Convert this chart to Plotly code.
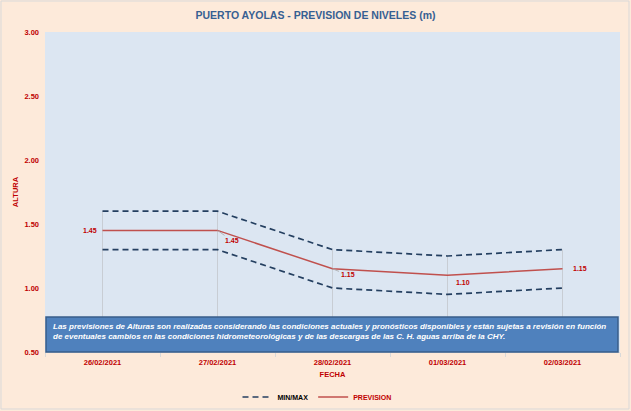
import plotly.graph_objects as go

# ---- data ----
fechas = ["26/02/2021", "27/02/2021", "28/02/2021", "01/03/2021", "02/03/2021"]
maximo = [1.60, 1.60, 1.30, 1.25, 1.30]
minimo = [1.30, 1.30, 1.00, 0.95, 1.00]
prevision = [1.45, 1.45, 1.15, 1.10, 1.15]
y_ticks = [0.50, 1.00, 1.50, 2.00, 2.50, 3.00]

# ---- style ----
W, H = 631, 411
ML, MR, MT, MB = 45, 11, 32, 59
FONT = "Liberation Sans, Arial, sans-serif"
RED = "#C00000"
NAVY = "#243F60"
LINE_RED = "#C0504D"
# label placement: (xanchor, xshift, yshift, leader)
label_style = [("right", -4, 0, False), ("left", 8, -10, True), ("left", 9, -6, True),
               ("left", 6, -7, False), ("left", 8, 0, False)]

ymin, ymax = y_ticks[0], y_ticks[-1]

fig = go.Figure()

# drop lines from the max series down to the axis
dx, dy = [], []
for f, m in zip(fechas, maximo):
    dx += [f, f, None]
    dy += [m, ymin, None]
fig.add_trace(go.Scatter(x=dx, y=dy, mode="lines", line=dict(color="#C8CDD4", width=1),
                         showlegend=False, hoverinfo="skip"))

fig.add_trace(go.Scatter(x=fechas, y=maximo, mode="lines", name="<b>MIN/MAX</b>",
                         line=dict(color=NAVY, width=1.7, dash="6px,4px"), legendgroup="mm"))
fig.add_trace(go.Scatter(x=fechas, y=minimo, mode="lines", name="MIN/MAX",
                         line=dict(color=NAVY, width=1.7, dash="6px,4px"), legendgroup="mm",
                         showlegend=False))
fig.add_trace(go.Scatter(x=fechas, y=prevision, mode="lines",
                         name='<span style="color:%s"><b>PREVISION</b></span>' % RED,
                         line=dict(color=LINE_RED, width=1.5)))

LBL = dict(family=FONT, size=7, color=RED)
annotations = []
for f, v, (xa, xs, ys, leader) in zip(fechas, prevision, label_style):
    if leader:
        annotations.append(dict(x=f, y=v, xref="x", yref="y", text="<b>%.2f</b>" % v,
                                showarrow=True, arrowhead=0, arrowwidth=0.8, arrowcolor="#A6A6A6",
                                ax=xs + 6, ay=-ys, xanchor="center", yanchor="middle",
                                font=LBL, standoff=0))
    else:
        annotations.append(dict(x=f, y=v, xref="x", yref="y", text="<b>%.2f</b>" % v,
                                showarrow=False, xanchor=xa, yanchor="middle", xshift=xs, yshift=ys,
                                font=LBL))

note = ("Las previsiones de Alturas son realizadas considerando las condiciones actuales y pronósticos "
        "disponibles y están sujetas a revisión en función<br>de eventuales cambios en las condiciones "
        "hidrometeorológicas y de las descargas de las C. H. aguas arriba de la CHY.")
pw, ph = W - ML - MR, H - MT - MB
annotations.append(dict(x=(51 - ML) / pw, y=(352 - 331) / ph, xref="paper", yref="paper",
                        text="<b><i>%s</i></b>" % note, showarrow=False, xanchor="left",
                        yanchor="middle", align="left",
                        font=dict(family=FONT, size=8, color="white")))

shapes = [
    dict(type="rect", xref="paper", yref="paper", x0=(46 - ML) / pw, x1=(618 - ML) / pw,
         y0=0, y1=(352 - 317) / ph, fillcolor="#4F81BD", line=dict(color="#385D8A", width=1.5),
         layer="above"),
    dict(type="rect", xref="paper", yref="paper", x0=-(ML - 1) / pw, x1=1 + (MR - 2) / pw,
         y0=-(MB - 2) / ph, y1=1 + (MT - 1) / ph, line=dict(color="#D9D9D9", width=1),
         fillcolor="rgba(0,0,0,0)", layer="below"),
]

fig.update_layout(
    width=W, height=H,
    margin=dict(l=ML, r=MR, t=MT, b=MB, autoexpand=False),
    paper_bgcolor="#FDEADA",
    plot_bgcolor="#DCE6F2",
    title=dict(text="<b>PUERTO AYOLAS - PREVISION DE NIVELES (m)</b>", x=0.5, xanchor="center",
               y=1 - 15 / H, yanchor="middle", font=dict(family=FONT, size=10.5, color="#376092")),
    showlegend=True,
    legend=dict(orientation="h", x=(317 - ML) / pw, xanchor="center", y=-(397 - 352) / ph,
                yanchor="middle", font=dict(family=FONT, size=7, color="#000000"),
                bgcolor="rgba(0,0,0,0)", traceorder="normal", itemwidth=30),
    annotations=annotations,
    shapes=shapes,
    font=dict(family=FONT),
)
fig.update_xaxes(type="category", range=[-0.5, len(fechas) - 0.5], showgrid=False, automargin=False,
                 ticks="outside", tickson="boundaries", ticklen=4, tickcolor="#D9D9D9",
                 showline=True, linecolor="#D9D9D9", zeroline=False, ticklabelstandoff=3,
                 tickfont=dict(family=FONT, size=7.5, color=RED),
                 tickprefix="<b>", ticksuffix="</b>",
                 title=dict(text="<b>FECHA</b>", font=dict(family=FONT, size=7.5, color=RED), standoff=5))
fig.update_yaxes(range=[ymin, ymax], tickvals=y_ticks, ticktext=["<b>%.2f</b>" % t for t in y_ticks],
                 showgrid=False, zeroline=False, showline=False, ticks="", automargin=False,
                 ticklabelstandoff=5,
                 tickfont=dict(family=FONT, size=7.5, color=RED),
                 title=dict(text="<b>ALTURA</b>", font=dict(family=FONT, size=7.5, color=RED), standoff=4))

fig.write_html("out.html", post_script="document.body.style.margin='0';",
               config={"displayModeBar": False})
